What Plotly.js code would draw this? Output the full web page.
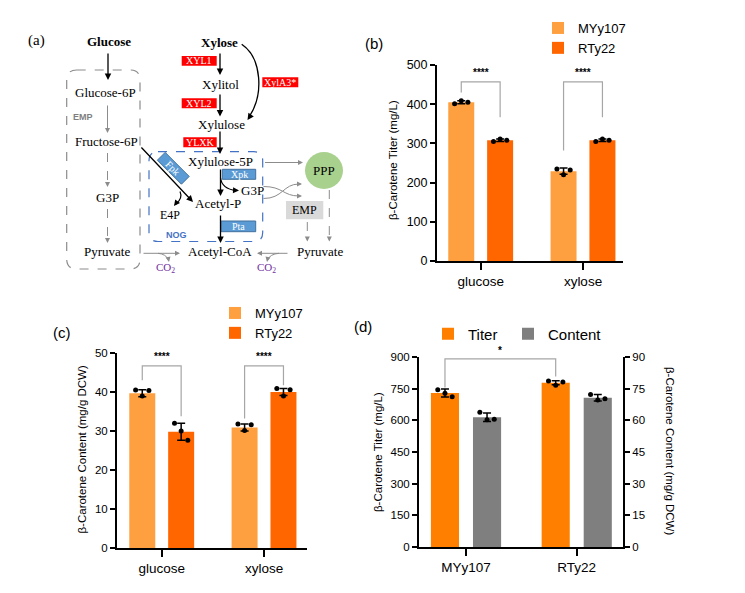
<!DOCTYPE html>
<html><head><meta charset="utf-8">
<script src="https://cdn.plot.ly/plotly-3.0.1.min.js"></script>
<style>body{margin:0;background:#fff}#chart{width:745px;height:593px}</style>
</head><body><div id="chart"></div>
<script>
// ---------- data ----------
const sugars = ['glucose', 'xylose'];
const titerMY = [405, 229];
const titerMYsd = [4, 8];
const titerMYrep = [[401, 409, 405], [235, 220, 232]];
const titerRT = [308, 308];
const titerRTsd = [3, 3];
const titerRTrep = [[305, 311, 308], [305, 311, 308]];

const contMY = [39.7, 30.9];
const contMYsd = [0.9, 0.9];
const contMYrep = [[40.5, 39.0, 40.4], [31.8, 30.1, 31.6]];
const contRT = [29.8, 40.0];
const contRTsd = [2.2, 0.9];
const contRTrep = [[32.0, 30.0, 27.6], [40.9, 39.0, 40.6]];

const strains = ['MYy107', 'RTy22'];
const dTiter = [729, 778];
const dTiterSd = [19, 10];
const dTiterRep = [[745, 728, 712], [786, 766, 781]];
const dCont = [61.5, 70.7];
const dContSd = [2, 1.5];
const dContRep = [[63.8, 60.3, 60.5], [72.2, 69.6, 70.2]];

// ---------- helpers ----------
const W = 745, H = 593;
const X = p => p / W, Y = p => 1 - p / H;
const P = (x, y) => X(x) + ' ' + Y(y);
const SERIF = '"Liberation Serif","Times New Roman",serif';
const SANS = '"Liberation Sans",Arial,sans-serif';
const GRAY = '#8c8c8c';
const C_MY = '#FFA040', C_RT = '#FF6600', C_TI = '#FF8000', C_CO = '#7F7F7F';
const shapes = [], annos = [];

function T(x, y, t, size, color, family, extra) {
  annos.push(Object.assign({xref:'paper', yref:'paper', x:X(x), y:Y(y), text:t, showarrow:false,
    xanchor:'center', yanchor:'middle', font:{family:family||SERIF, size:size||13, color:color||'#000'}}, extra||{}));
}
function arrow(x0, y0, x1, y1, color, w) {
  annos.push({xref:'paper', yref:'paper', x:X(x1), y:Y(y1), ax:x0-x1, ay:y0-y1, text:'', showarrow:true,
    arrowhead:2, arrowsize:1, arrowwidth:w||1.3, arrowcolor:color||'#000', standoff:0});
}
function head(x1, y1, dx, dy, color, w) { arrow(x1-dx*4, y1-dy*4, x1, y1, color, w); }
function dline(x0, y0, x1, y1, color, w, dash) {
  shapes.push({type:'line', xref:'paper', yref:'paper', x0:X(x0), y0:Y(y0), x1:X(x1), y1:Y(y1),
    line:{color:color, width:w, dash:dash||'solid'}});
}
function path(p, color, w, dash, fill) {
  shapes.push({type:'path', xref:'paper', yref:'paper', path:p, line:{color:color, width:w, dash:dash||'solid'},
    fillcolor:fill||'rgba(0,0,0,0)'});
}
function rrect(x0, y0, x1, y1, r, color, dash, w) {
  const p = `M${P(x0+r,y0)} L${P(x1-r,y0)} Q${P(x1,y0)} ${P(x1,y0+r)} L${P(x1,y1-r)} Q${P(x1,y1)} ${P(x1-r,y1)} L${P(x0+r,y1)} Q${P(x0,y1)} ${P(x0,y1-r)} L${P(x0,y0+r)} Q${P(x0,y0)} ${P(x0+r,y0)} Z`;
  path(p, color, w, dash);
}
function box(x0, y0, x1, y1, fill, line, label, size, tcolor) {
  shapes.push({type:'rect', xref:'paper', yref:'paper', x0:X(x0), y0:Y(y0), x1:X(x1), y1:Y(y1),
    fillcolor:fill, line:line ? {color:line, width:1} : {width:0}});
  T((x0+x1)/2, (y0+y1)/2, label, size||10, tcolor||'#fff');
}

// ---------- panel (a) pathway diagram ----------
T(36.7, 40, '(a)', 15);
T(109, 42, '<b>Glucose</b>', 13);
arrow(108, 52, 108, 80);
rrect(66.7, 70, 140, 269, 10, '#8c8c8c', 'dash', 1.2);
T(105, 92.5, 'Glucose-6P');
T(83, 117, '<b>EMP</b>', 9, '#7f7f7f', SANS);
arrow(107.5, 104, 107.5, 133, GRAY, 1);
T(106, 141, 'Fructose-6P');
dline(107.5, 153, 107.5, 184, GRAY, 1, 'dash'); head(107.5, 187, 0, 1, GRAY, 1);
T(107.5, 197.5, 'G3P');
dline(107.5, 209, 107.5, 240, GRAY, 1, 'dash'); head(107.5, 243, 0, 1, GRAY, 1);
T(106.5, 251, 'Pyruvate');
arrow(142, 253.3, 180, 253.3, GRAY, 1);
path(`M${P(158,253.3)} Q${P(166,254)} ${P(168.5,260)}`, GRAY, 1);
head(169, 262, 0.2, 1, GRAY, 1);
T(165, 268.5, 'CO<sub>2</sub>', 11, '#7030a0');

T(219.3, 42.3, '<b>Xylose</b>', 13);
arrow(220, 52, 220, 75);
box(181.7, 56, 216.7, 65.7, '#ff0000', null, 'XYL1');
T(220.7, 84.3, 'Xylitol');
arrow(220, 93, 220, 116.5);
box(181.7, 98.3, 216.7, 108.3, '#ff0000', null, 'XYL2');
T(221.7, 124.3, 'Xylulose');
arrow(220, 130, 220, 154);
box(183.3, 137.3, 216.7, 147.3, '#ff0000', null, 'YLXK');
path(`M${P(241.7,44.3)} C${P(262,58)} ${P(264,95)} ${P(249,117)}`, '#000', 1.3);
head(247.5, 120, -0.55, 0.83, '#000', 1.3);
box(262.3, 77.3, 298.3, 87.3, '#ff0000', null, 'XylA3*');

rrect(149, 151.7, 262.7, 241.5, 9, '#4472c4', 'dash', 1.2);
T(220.7, 161.7, 'Xylulose-5P');
box(222.3, 169.3, 255.7, 179.3, '#5b9bd5', '#41719c', 'Xpk');
arrow(220.5, 168, 220.5, 196);
path(`M${P(220.5,178)} Q${P(222,189)} ${P(236,190.5)}`, '#000', 1.2);
head(239, 190.5, 1, 0.05, '#000', 1.2);
T(252, 190.7, 'G3P');
T(218.3, 203.5, 'Acetyl-P');
box(221, 221, 255.7, 231.7, '#5b9bd5', '#41719c', 'Pta');
arrow(220.5, 214, 220.5, 243);
T(176.7, 235, '<b>NOG</b>', 9, '#4472c4', SANS);
T(220, 251.5, 'Acetyl-CoA');

// Fpk rotated box
(function(){
  const cx = 173.3, cy = 168.3, hl = 17, hw = 5.5, d = [0.7071, 0.7071], n = [0.7071, -0.7071];
  const c = (a, b) => P(cx + a*d[0] + b*n[0], cy + a*d[1] + b*n[1]);
  path(`M${c(hl,hw)} L${c(hl,-hw)} L${c(-hl,-hw)} L${c(-hl,hw)} Z`, '#41719c', 1, 'solid', '#5b9bd5');
  T(cx, cy, 'Fpk', 10, '#fff', SERIF, {textangle:45});
})();
arrow(140, 146, 193, 202, '#000', 1.3);
path(`M${P(180,191.5)} Q${P(183,198)} ${P(176,204)}`, '#000', 1.2);
head(174, 206, -0.6, 0.8, '#000', 1.2);
T(170, 214.5, 'E4P', 12);

arrow(263.5, 162.5, 303, 162.5, GRAY, 1);
shapes.push({type:'circle', xref:'paper', yref:'paper', x0:X(305), x1:X(343), y0:Y(189), y1:Y(152),
  fillcolor:'#a9d18e', line:{width:0}});
T(324, 170.5, 'PPP', 13);
path(`M${P(263.5,186.5)} C${P(283,186.5)} ${P(283,196)} ${P(299,196)}`, GRAY, 1);
head(302, 196, 1, 0, GRAY, 1);
path(`M${P(263.5,198.5)} C${P(283,198.5)} ${P(283,184)} ${P(299,184)}`, GRAY, 1);
head(302, 184, 1, 0, GRAY, 1);
box(286, 201, 323.3, 219.3, '#d9d9d9', null, 'EMP', 12, '#000');
dline(307.3, 222, 307.3, 238, GRAY, 1, 'dash'); head(307.3, 241.5, 0, 1, GRAY, 1);
dline(329.3, 190, 329.3, 238, GRAY, 1, 'dash'); head(329.3, 241.5, 0, 1, GRAY, 1);
T(320, 251, 'Pyruvate');
arrow(289, 253.3, 257, 253.3, GRAY, 1);
path(`M${P(279,253.3)} Q${P(270,254)} ${P(267.5,260)}`, GRAY, 1);
head(267, 262, -0.2, 1, GRAY, 1);
T(266, 268.5, 'CO<sub>2</sub>', 11, '#7030a0');

// ---------- panel labels & axis titles ----------
T(374, 43, '(b)', 15, '#000', SANS);
T(61.7, 332.3, '(c)', 15, '#000', SANS);
T(362.7, 326, '(d)', 15, '#000', SANS);
T(393, 160, 'β-Carotene Titer (mg/L)', 11.5, '#000', SANS, {textangle:-90});
T(81.5, 450, 'β-Carotene Content (mg/g DCW)', 11.5, '#000', SANS, {textangle:-90});
T(378, 452, 'β-Carotene Titer (mg/L)', 11.5, '#000', SANS, {textangle:-90});
T(670, 451, 'β-Carotene Content (mg/g DCW)', 11.5, '#000', SANS, {textangle:90});

// ---------- bar traces ----------
const BW = 0.254, OFF = 0.19, JIT = 0.065;
function bars(name, vals, sd, color, side, xa, ya, legend) {
  return {type:'bar', name, x:vals.map((v,i)=>i), y:vals, width:BW, offset:side*OFF - BW/2,
    marker:{color, line:{width:0}},
    error_y:{type:'data', array:sd, visible:true, color:'#000', thickness:1.5, width:4},
    xaxis:xa, yaxis:ya, legend, hoverinfo:'skip'};
}
function dots(reps, side, xa, ya) {
  const x = [], y = [];
  reps.forEach((r,i) => r.forEach((v,j) => { x.push(i + side*OFF + (j-1)*JIT); y.push(v); }));
  return {type:'scatter', mode:'markers', x, y, marker:{color:'#000', size:5}, showlegend:false,
    xaxis:xa, yaxis:ya, cliponaxis:false, hoverinfo:'skip'};
}
const data = [
  bars('MYy107', titerMY, titerMYsd, C_MY, -1, 'x', 'y', 'legend'),
  bars('RTy22', titerRT, titerRTsd, C_RT, 1, 'x', 'y', 'legend'),
  bars('MYy107', contMY, contMYsd, C_MY, -1, 'x2', 'y2', 'legend2'),
  bars('RTy22', contRT, contRTsd, C_RT, 1, 'x2', 'y2', 'legend2'),
  bars('Titer', dTiter, dTiterSd, C_TI, -1, 'x3', 'y3', 'legend3'),
  bars('Content', dCont, dContSd, C_CO, 1, 'x3', 'y4', 'legend4'),
  dots(titerMYrep, -1, 'x', 'y'), dots(titerRTrep, 1, 'x', 'y'),
  dots(contMYrep, -1, 'x2', 'y2'), dots(contRTrep, 1, 'x2', 'y2'),
  dots(dTiterRep, -1, 'x3', 'y3'), dots(dContRep, 1, 'x3', 'y4')
];

// ---------- significance brackets ----------
function bracket(xa, ya, xl, xr, top, bl, br, label, ly) {
  shapes.push({type:'path', xref:xa, yref:ya, path:`M${xl},${bl} L${xl},${top} L${xr},${top} L${xr},${br}`,
    line:{color:'#a6a6a6', width:1.2}});
  annos.push({xref:xa, yref:ya, x:(xl+xr)/2, y:ly, text:label, showarrow:false,
    font:{family:SANS, size:10, color:'#000'}});
}
bracket('x', 'y', -OFF, OFF, 457, 430, 367, '<b>****</b>', 481);
bracket('x', 'y', 1-OFF, 1+OFF, 457, 282, 367, '<b>****</b>', 481);
bracket('x2', 'y2', -OFF, OFF, 46.7, 43, 33.8, '<b>****</b>', 49);
bracket('x2', 'y2', 1-OFF, 1+OFF, 46.7, 33.2, 41.7, '<b>****</b>', 49);
shapes.push({type:'path', xref:'x3', yref:'y3', path:`M${-OFF},755 L${-OFF},891 L${1-OFF},891 L${1-OFF},808`,
  line:{color:'#a6a6a6', width:1.2}});
annos.push({xref:'x3', yref:'paper', x:(1-2*OFF)/2, y:Y(350), text:'<b>*</b>', showarrow:false,
  font:{family:SANS, size:10, color:'#000'}});

// ---------- axes ----------
const ax = {showline:true, linewidth:2, linecolor:'#000', ticks:'outside', tickwidth:2, tickcolor:'#000',
  showgrid:false, zeroline:false, fixedrange:true};
const xax = Object.assign({}, ax, {ticklen:7, tickvals:[0,1], tickfont:{family:SANS, size:13.5, color:'#000'}});
const yax = Object.assign({}, ax, {ticklen:5, tick0:0});
const tf = s => ({tickfont:{family:SANS, size:s, color:'#000'}});
const leg = (x, y, s, extra) => Object.assign({x:X(x), y:Y(y), xanchor:'left', yanchor:'middle',
  font:{family:SANS, size:s, color:'#000'}, bgcolor:'rgba(0,0,0,0)'}, extra||{});

const layout = {
  width:W, height:H, margin:{l:0, r:0, t:0, b:0}, paper_bgcolor:'#fff', plot_bgcolor:'rgba(0,0,0,0)',
  showlegend:true, barmode:'overlay',
  xaxis: Object.assign({}, xax, {domain:[X(437), X(623)], range:[-0.427, 1.391], ticktext:sugars, anchor:'y'}),
  yaxis: Object.assign({}, yax, tf(12.5), {domain:[Y(261), Y(65)], range:[0, 500], dtick:100, anchor:'x'}),
  xaxis2: Object.assign({}, xax, {domain:[X(117), X(307)], range:[-0.437, 1.42], ticktext:sugars, anchor:'y2'}),
  yaxis2: Object.assign({}, yax, tf(11.5), {domain:[Y(548), Y(353)], range:[0, 50], dtick:10, anchor:'x2'}),
  xaxis3: Object.assign({}, xax, {domain:[X(419), X(623)], range:[-0.4246, 1.418], ticktext:strains, anchor:'y3'}),
  yaxis3: Object.assign({}, yax, tf(11.5), {domain:[Y(547), Y(357)], range:[0, 900], dtick:150, anchor:'x3'}),
  yaxis4: Object.assign({}, yax, tf(11.5), {domain:[Y(547), Y(357)], range:[0, 90], dtick:15, anchor:'x3',
    overlaying:'y3', side:'right'}),
  legend: leg(538, 38, 13),
  legend2: leg(215, 323, 13),
  legend3: leg(428, 334, 15, {orientation:'h'}),
  legend4: leg(508, 334, 15, {orientation:'h'}),
  shapes, annotations: annos
};
Plotly.newPlot('chart', data, layout, {displayModeBar:false, staticPlot:true});
</script></body></html>
